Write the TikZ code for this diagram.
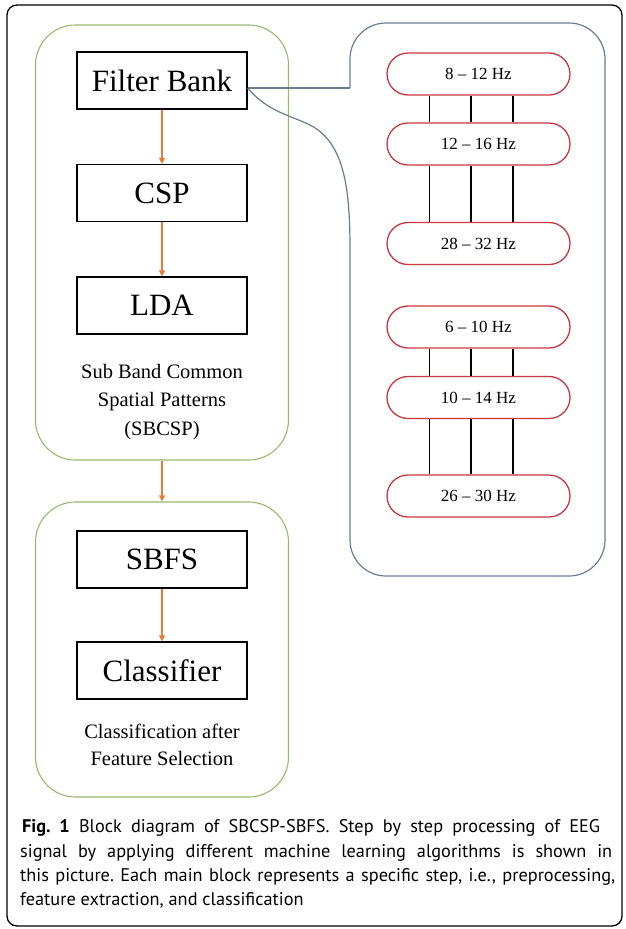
\documentclass[tikz,border=0pt]{standalone}
\usepackage{fontspec}
\setmainfont{Liberation Serif}
\newfontfamily\capfont{PT Sans}
\usetikzlibrary{shapes.misc,arrows.meta}
\definecolor{gline}{RGB}{150,185,110}
\definecolor{bline}{RGB}{105,125,145}
\definecolor{rline}{RGB}{200,55,65}
\definecolor{oline}{RGB}{230,125,55}
\begin{document}
\frenchspacing
\begin{tikzpicture}[x=1pt,y=-1pt,
  stepbox/.style={draw=black, line width=1.2pt, minimum width=170pt, minimum height=57pt, inner sep=0pt, font=\fontsize{31}{31}\selectfont},
  gbox/.style={draw=gline, line width=1.1pt, rounded corners=40pt, minimum width=253pt, inner sep=0pt},
  pill/.style={draw=rline, line width=1.3pt, rounded rectangle, minimum width=183pt, minimum height=42pt, inner sep=0pt, font=\fontsize{17}{17}\selectfont},
  oarrow/.style={draw=oline, line width=1.1pt, -{Triangle[length=6pt,width=6pt]}},
  bpath/.style={draw=bline, line width=1.2pt},
  lbl/.style={align=center, inner sep=0pt, font=\fontsize{20.5}{28.5}\selectfont},
  captxt/.style={anchor=base west, inner sep=0pt, font=\capfont\fontsize{18.3}{24}\selectfont}
]
\useasboundingbox (0,0) rectangle (625,929);
% outer frame
\draw[line width=1.3pt, rounded corners=10pt] (7,5) rectangle (622,926);

% left containers
\node[gbox, minimum height=435pt] (g1) at (162,242.5) {};
\node[gbox, minimum height=295pt] (g2) at (162,649.5) {};

% steps
\node[stepbox] (fb) at (162,80.5) {Filter Bank};
\node[stepbox] (csp) at (162,193) {CSP};
\node[stepbox] (lda) at (162,305.5) {LDA};
\node[stepbox] (sbfs) at (162,559.5) {SBFS};
\node[stepbox] (cls) at (162,670.5) {Classifier};

\node[lbl] (sbcsp) at (162,402) {Sub Band Common\\Spatial Patterns\\(SBCSP)};
\node[lbl, font=\fontsize{20.5}{27}\selectfont] (cafs) at (162,745) {Classification after\\Feature Selection};

\draw[oarrow] (fb.south) -- (csp.north);
\draw[oarrow] (csp.south) -- (lda.north);
\draw[oarrow] (g1.south) -- (g2.north);
\draw[oarrow] (sbfs.south) -- (cls.north);

% callout
\coordinate (tip) at ([yshift=-7.5pt]fb.east);
\coordinate (ca) at (350,88);
\coordinate (cb) at (350,250);
\draw[bpath, rounded corners=36pt] (ca) -- (350,23) -- (605,23) -- (605,576) -- (350,576) -- (cb);
\draw[bpath] (tip) -- (ca);
\draw[bpath] (cb) .. controls (350,190) and (345,143) .. (310,125) .. controls (290,115) and (268,112) .. (tip);

% filter bands
\node[pill] (p1) at (478.5,74) {8 -- 12 Hz};
\node[pill] (p2) at (478.5,144) {12 -- 16 Hz};
\node[pill] (p3) at (478.5,243.5) {28 -- 32 Hz};
\node[pill] (p4) at (478.5,327) {6 -- 10 Hz};
\node[pill] (p5) at (478.5,397.5) {10 -- 14 Hz};
\node[pill] (p6) at (478.5,496) {26 -- 30 Hz};
\foreach \dx in {-49,-7.5,34.5}{
  \draw[line width=1.2pt] ([xshift=\dx pt]p1.south) -- ([xshift=\dx pt]p2.north);
  \draw[line width=1.2pt] ([xshift=\dx pt]p2.south) -- ([xshift=\dx pt]p3.north);
  \draw[line width=1.2pt] ([xshift=\dx pt]p4.south) -- ([xshift=\dx pt]p5.north);
  \draw[line width=1.2pt] ([xshift=\dx pt]p5.south) -- ([xshift=\dx pt]p6.north);
}

% caption
\node[captxt] (c1) at (22,832) {\hbox to 578pt{\textbf{Fig. 1} Block diagram of SBCSP-SBFS. Step by step processing of EEG}};
\node[captxt] (c2) at (20,857) {\hbox to 592pt{signal by applying different machine learning algorithms is shown in}};
\node[captxt] (c3) at (20,881) {\hbox to 595pt{this picture. Each main block represents a specific step, i.e., preprocessing,}};
\node[captxt] (c4) at (20,905) {feature extraction, and classification};
\end{tikzpicture}
\end{document}
